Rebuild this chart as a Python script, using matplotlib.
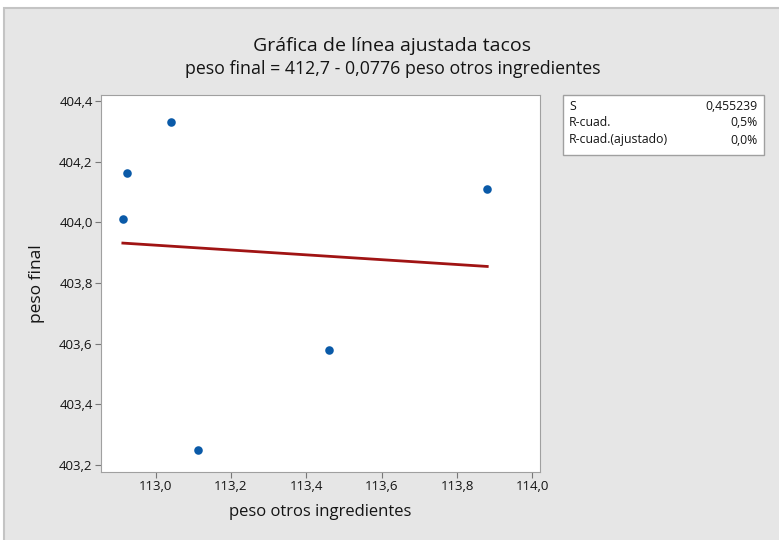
import numpy as np
import matplotlib
matplotlib.use("Agg")
import matplotlib.pyplot as plt
from matplotlib.patches import Rectangle
from matplotlib.ticker import FuncFormatter

plt.rcParams['font.family'] = ['Open Sans', 'DejaVu Sans']

# datos
peso_otros = [112.913, 112.924, 113.041, 113.112, 113.460, 113.880]
peso_final = [404.011, 404.163, 404.331, 403.249, 403.579, 404.110]

stat_names = ["S", "R-cuad.", "R-cuad.(ajustado)"]
stat_values = ["0,455239", "0,5%", "0,0%"]

x_ticks = [113.0, 113.2, 113.4, 113.6, 113.8, 114.0]
y_ticks = [403.2, 403.4, 403.6, 403.8, 404.0, 404.2, 404.4]

txt = '#141414'
W, H = 779, 540
fig = plt.figure(figsize=(W / 100, H / 100), dpi=100)
fig.patch.set_facecolor('white')
# fondo gris del grafico
fig.patches.append(Rectangle((4 / W, -0.01), 1, 1 - 8 / H + 0.01, transform=fig.transFigure,
                             facecolor='#e6e6e6', edgecolor='#c4c4c4', lw=1.5, zorder=-5))

ax = fig.add_axes([101 / W, 1 - 472 / H, (540 - 101) / W, (472 - 95) / H])
ax.set_facecolor('white')

# recta ajustada (minimos cuadrados)
b, a = np.polyfit(peso_otros, peso_final, 1)
xs = np.array([min(peso_otros), max(peso_otros)])
ax.plot(xs, a + b * xs, color='#a01414', lw=2, zorder=2)
ax.scatter(peso_otros, peso_final, s=38, color='#0a5aa8', zorder=3, linewidths=0)

ax.set_xlim(112.855, 114.02)
ax.set_ylim(403.177, 404.42)
ax.set_xticks(x_ticks)
ax.set_yticks(y_ticks)
fmt = FuncFormatter(lambda v, p: f"{v:.1f}".replace('.', ','))
ax.xaxis.set_major_formatter(fmt)
ax.yaxis.set_major_formatter(fmt)
ax.tick_params(labelsize=9.5, length=4, color='#777777', colors=txt, pad=2)
for s in ax.spines.values():
    s.set_color('#a0a0a0')

ax.set_xlabel("peso otros ingredientes", fontsize=12, color=txt, labelpad=8)
ax.set_ylabel("peso final", fontsize=12.5, color=txt, labelpad=10)

fig.text(392 / W, 1 - 46 / H, "Gráfica de línea ajustada tacos",
         ha='center', va='center', fontsize=14, color=txt)
fig.text(393 / W, 1 - 69 / H, "peso final = 412,7 - 0,0776 peso otros ingredientes",
         ha='center', va='center', fontsize=12.8, color=txt)

# tabla de estadisticos
tx0, ty0, tw, th = 563, 95, 201, 60
fig.patches.append(Rectangle((tx0 / W, 1 - (ty0 + th) / H), tw / W, th / H,
                             transform=fig.transFigure, facecolor='white',
                             edgecolor='#a0a0a0', lw=1, zorder=1))
for i, (n, v) in enumerate(zip(stat_names, stat_values)):
    yy = 1 - (ty0 + 11 + i * 17) / H
    fig.text((tx0 + 6) / W, yy, n, ha='left', va='center', fontsize=8.8, color=txt)
    fig.text((tx0 + tw - 6) / W, yy, v, ha='right', va='center', fontsize=8.8, color=txt)

fig.savefig("out.png", dpi=100, facecolor=fig.get_facecolor())
